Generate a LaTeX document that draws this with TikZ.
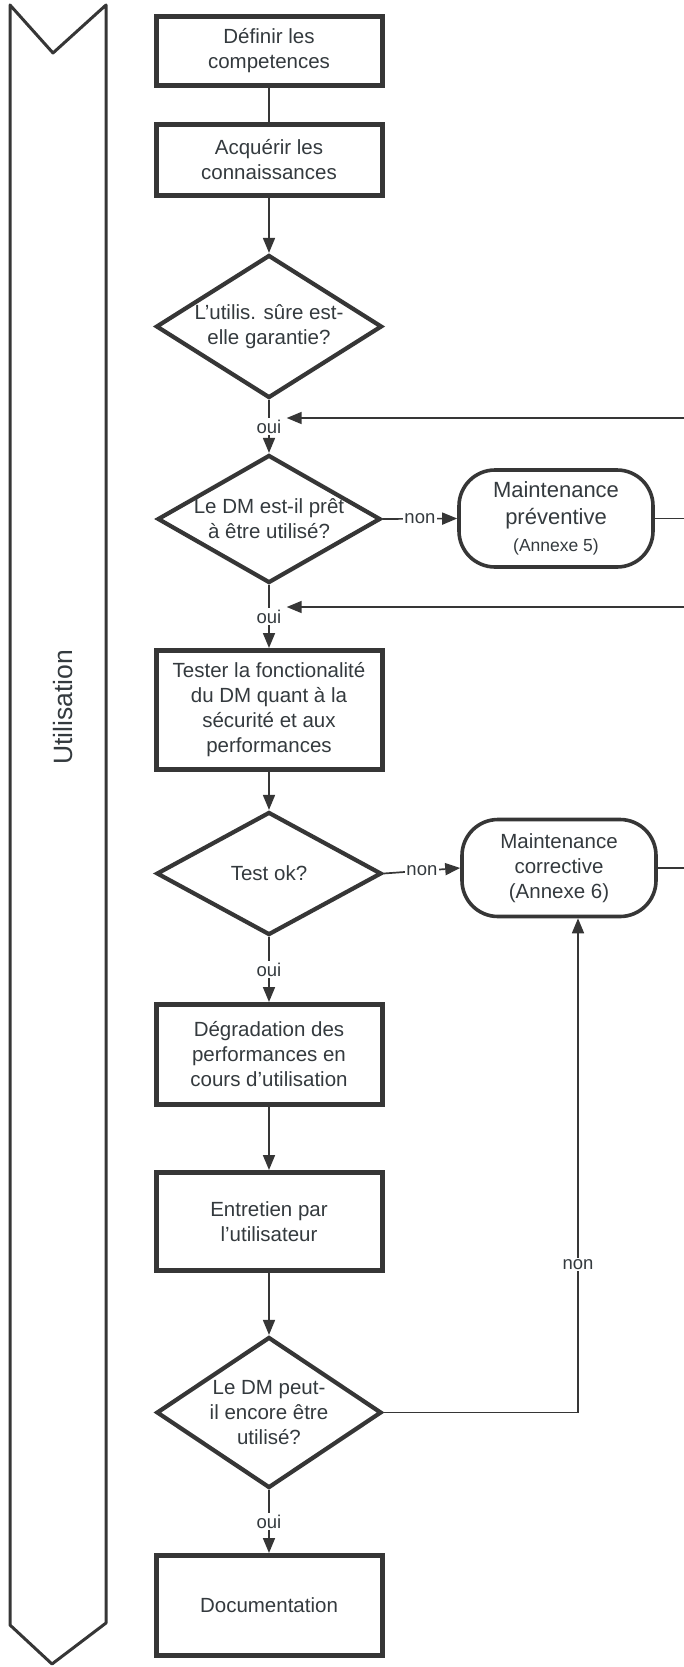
\documentclass[tikz,border=0pt]{standalone}
\usepackage{fontspec}
\setmainfont{Liberation Sans}
\usetikzlibrary{shapes.geometric, arrows.meta, calc}

\definecolor{ink}{HTML}{363636}
\definecolor{txt}{HTML}{343A3E}

\begin{document}
\begin{tikzpicture}[x=1pt, y=-1pt,
  every node/.style={text=txt, font=\fontsize{20.5}{25}\selectfont, align=center},
  stepbox/.style={draw=ink, line width=5pt, fill=white, minimum width=226pt, inner sep=0pt},
  decision/.style={diamond, draw=ink, line width=4.2pt, fill=white, inner sep=0pt},
  maint/.style={draw=ink, line width=3.6pt, rounded corners=36pt, fill=white,
                minimum width=194pt, minimum height=97pt, inner sep=0pt},
  flow/.style={draw=ink, line width=1.7pt},
  arrow/.style={flow, -{Triangle[length=15pt, width=12pt]}},
  tag/.style={fill=white, inner sep=1.5pt, font=\fontsize{18.5}{20}\selectfont},
  band/.style={draw=ink, line width=3pt, line join=round},
]
\useasboundingbox (0,0) rectangle (684,1667);
\fill[white] (0,0) rectangle (684,1667);

% phase band on the left
\draw[band] (10,5) -- (53,53) -- (106,5) -- (106,1623) -- (52,1664) -- (10,1625) -- cycle;
\node[rotate=90, font=\fontsize{26.5}{28}\selectfont] (lane) at (63,707.5) {Utilisation};

% main column
\node[stepbox, minimum height=69pt] (b1) at (269,51) {Définir les\\competences};
\node[stepbox, minimum height=71pt] (b2) at (269,160) {Acquérir les\\connaissances};
\node[decision, minimum width=226pt, minimum height=143pt,
      label={center:{L’utilis. sûre est-\\elle garantie?}}] (d1) at (269,326.5) {};
\node[decision, minimum width=223pt, minimum height=128pt,
      label={center:{Le DM est-il prêt\\à être utilisé?}}] (d2) at (269,519) {};
\node[stepbox, minimum height=119pt] (b3) at (269,710)
  {Tester la fonctionalité\\du DM quant à la\\sécurité et aux\\performances};
\node[decision, minimum width=225pt, minimum height=123pt,
      label={center:{Test ok?}}] (d3) at (269,873.5) {};
\node[stepbox, minimum height=100pt] (b4) at (269,1054.5)
  {Dégradation des\\performances en\\cours d’utilisation};
\node[stepbox, minimum height=98pt] (b5) at (269,1221.5) {Entretien par\\l’utilisateur};
\node[decision, minimum width=225pt, minimum height=151pt,
      label={center:{Le DM peut-\\il encore être\\utilisé?}}] (d4) at (269,1412.5) {};
\node[stepbox, minimum height=100pt] (doc) at (269,1605.5) {Documentation};

% maintenance branches
\node[maint, font=\fontsize{22}{27}\selectfont] (mp) at (556,518.5)
  {Maintenance\\préventive\\{\fontsize{17.5}{21}\selectfont (Annexe 5)}};
\node[maint] (mc) at (559,868) {Maintenance\\corrective\\(Annexe 6)};

% right edge anchors of the return lines
\coordinate (fb1) at (684,418);
\coordinate (fb2) at (684,607);
\coordinate (ret) at (578,1412.5);

% connectors
\draw[flow] (b1.south) -- (b2.north);
\draw[arrow] (b2.south) -- (d1.north);
\draw[arrow] (d1.south) -- node[tag] (oui1) {oui} (d2.north);
\draw[arrow] (d2.south) -- node[tag] (oui2) {oui} (b3.north);
\draw[arrow] (d2.east) -- node[tag] (non1) {non} (mp.west);
\draw[flow] (mp.east) -- (mp.east -| fb1);
\draw[arrow] (fb1) -- ([xshift=3pt]fb1 -| oui1.east);
\draw[arrow] (fb2) -- ([xshift=3pt]fb2 -| oui2.east);
\draw[arrow] (b3.south) -- (d3.north);
\draw[arrow] (d3.east) -- node[tag] (non2) {non} (mc.west);
\draw[flow] (mc.east) -- (mc.east -| fb1);
\draw[arrow] (d3.south) -- node[tag] (oui3) {oui} (b4.north);
\draw[arrow] (b4.south) -- (b5.north);
\draw[arrow] (b5.south) -- (d4.north);
\draw[arrow] (d4.south) -- node[tag] (oui4) {oui} (doc.north);
\draw[arrow] (d4.east) -- (ret) -- node[tag, pos=0.3] (non3) {non} (mc.south -| ret);
\end{tikzpicture}
\end{document}
